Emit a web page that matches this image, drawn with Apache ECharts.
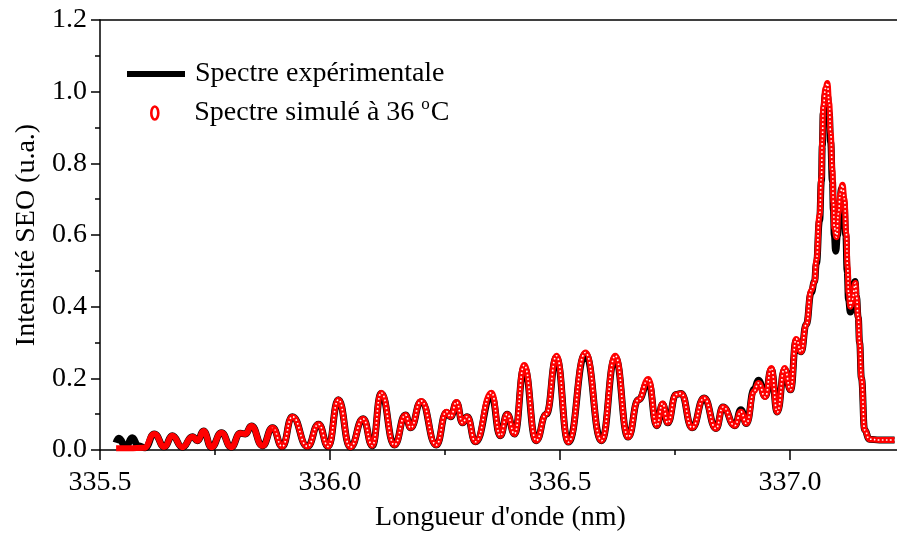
<!DOCTYPE html>
<html>
<head>
<meta charset="utf-8">
<script src="https://cdn.jsdelivr.net/npm/echarts/dist/echarts.min.js"></script>
<style>
html,body{margin:0;padding:0;background:#fff;}
#chart{width:897px;height:533px;}
</style>
</head>
<body>
<div id="chart"></div>
<script>
// ---- Data ----
const expName = 'Spectre expérimentale';
const simName = 'Spectre simulé à 36 °C';

const xTicks = [335.5, 336.0, 336.5, 337.0];
const yTicks = [0.0, 0.2, 0.4, 0.6, 0.8, 1.0, 1.2];

// simulated spectrum (wavelength nm, intensity)
const simWavelength = [
 335.535,335.564,335.596,335.618,335.640,335.657,335.679,335.701,335.712,335.725,
 335.742,335.764,335.785,335.805,335.816,335.829,335.853,335.875,335.896,335.918,
 335.951,335.975,335.996,336.018,336.044,336.072,336.092,336.111,336.140,336.164,
 336.175,336.198,336.231,336.253,336.262,336.275,336.288,336.298,336.316,336.351,
 336.370,336.385,336.401,336.422,336.448,336.470,336.492,336.518,336.555,336.590,
 336.620,336.648,336.670,336.692,336.710,336.723,336.734,336.752,336.763,336.787,
 336.813,336.839,336.854,336.880,336.893,336.905,336.922,336.931,336.946,336.959,
 336.972,336.988,337.001,337.013,337.024,337.035,337.046,337.053,337.057,337.064,
 337.068,337.070,337.072,337.077,337.081,337.085,337.088,337.092,337.094,337.096,
 337.101,337.105,337.109,337.114,337.118,337.122,337.125,337.127,337.131,337.135,
 337.142,337.144,337.148,337.151,337.155,337.162,337.172,337.194,337.227
];
const simIntensity = [
 0.005,0.005,0.006,0.045,0.009,0.040,0.008,0.037,0.026,0.053,
 0.008,0.048,0.008,0.047,0.045,0.067,0.012,0.062,0.010,0.093,
 0.010,0.072,0.010,0.140,0.008,0.087,0.012,0.160,0.014,0.098,
 0.062,0.137,0.014,0.107,0.093,0.134,0.076,0.093,0.023,0.160,
 0.040,0.100,0.045,0.237,0.026,0.100,0.263,0.022,0.272,0.026,
 0.263,0.036,0.140,0.198,0.068,0.130,0.076,0.155,0.158,0.062,
 0.145,0.060,0.120,0.068,0.107,0.074,0.165,0.187,0.148,0.229,
 0.106,0.229,0.168,0.310,0.274,0.350,0.446,0.470,0.530,0.655,
 0.760,0.865,0.957,1.010,1.024,0.968,0.885,0.780,0.690,0.620,
 0.594,0.660,0.715,0.740,0.700,0.605,0.510,0.440,0.400,0.420,
 0.466,0.430,0.370,0.300,0.200,0.056,0.030,0.028,0.028
];

// experimental spectrum (wavelength nm, intensity)
const expWavelength = [
 335.535,335.541,335.556,335.570,335.583,335.598,335.618,335.640,335.657,335.679,
 335.701,335.712,335.725,335.742,335.764,335.785,335.805,335.816,335.829,335.853,
 335.875,335.896,335.918,335.951,335.975,335.996,336.018,336.044,336.072,336.092,
 336.111,336.140,336.164,336.175,336.198,336.231,336.253,336.262,336.275,336.288,
 336.298,336.316,336.351,336.370,336.385,336.401,336.422,336.448,336.470,336.492,
 336.518,336.555,336.590,336.620,336.648,336.670,336.692,336.710,336.723,336.734,
 336.752,336.763,336.787,336.813,336.839,336.854,336.880,336.893,336.905,336.922,
 336.931,336.946,336.959,336.972,336.988,337.001,337.013,337.024,337.035,337.046,
 337.053,337.057,337.064,337.068,337.070,337.072,337.077,337.081,337.085,337.088,
 337.092,337.094,337.096,337.099,337.103,337.107,337.112,337.117,337.121,337.124,
 337.127,337.131,337.135,337.141,337.144,337.148,337.151,337.155,337.162,337.172,
 337.194,337.227
];
const expIntensity = [
 0.020,0.033,0.008,0.034,0.012,0.006,0.045,0.009,0.040,0.008,
 0.037,0.026,0.053,0.008,0.048,0.008,0.047,0.045,0.067,0.012,
 0.062,0.010,0.093,0.010,0.072,0.010,0.140,0.008,0.087,0.012,
 0.158,0.014,0.098,0.062,0.135,0.014,0.105,0.093,0.132,0.076,
 0.093,0.023,0.150,0.040,0.100,0.045,0.230,0.026,0.100,0.258,
 0.022,0.268,0.026,0.258,0.036,0.140,0.190,0.068,0.128,0.076,
 0.155,0.158,0.062,0.145,0.060,0.120,0.068,0.112,0.074,0.170,
 0.195,0.150,0.225,0.106,0.225,0.168,0.305,0.274,0.350,0.440,
 0.470,0.520,0.640,0.750,0.850,0.940,0.995,0.990,0.940,0.860,
 0.750,0.670,0.600,0.555,0.600,0.680,0.730,0.690,0.600,0.500,
 0.420,0.385,0.410,0.470,0.430,0.370,0.300,0.200,0.056,0.030,
 0.028,0.028
];

// ---- Build chart ----
const pairs = (xs, ys) => xs.map((x, i) => [x, ys[i]]);
const simData = pairs(simWavelength, simIntensity);
const expData = pairs(expWavelength, expIntensity);

const FONT = 'Liberation Serif';
const chart = echarts.init(document.getElementById('chart'), null, {renderer: 'canvas'});

const xMin = xTicks[0];
const xMax = 337.241;

// white "marker centre" dots only visible where the simulated curve is tall
const overlayGradient = new echarts.graphic.LinearGradient(0, 0, 1, 0, [
  {offset: 0, color: 'rgba(255,255,255,0)'},
  {offset: 0.2, color: 'rgba(255,255,255,0)'},
  {offset: 0.21, color: 'rgba(255,255,255,1)'},
  {offset: 1, color: 'rgba(255,255,255,1)'}
]);

chart.setOption({
  animation: false,
  backgroundColor: '#ffffff',
  grid: {left: 100, top: 20, right: -4, bottom: 83, containLabel: false, outerBoundsMode: 'none'},
  legend: [
    {
      data: [{name: expName, icon: 'rect'}],
      left: 127, top: 60, padding: 0,
      itemWidth: 58, itemHeight: 6,
      selectedMode: false,
      textStyle: {fontFamily: FONT, fontSize: 28, color: '#000', padding: [0, 0, 0, 5]}
    },
    {
      data: [{name: simName,
              icon: 'path://M0,6.5 A3.5,6.5 0 1,1 7,6.5 A3.5,6.5 0 1,1 0,6.5 Z',
              itemStyle: {color: '#ffffff', borderColor: '#ff0000', borderWidth: 2.6}}],
      left: 150, top: 96, padding: 0,
      itemWidth: 7, itemHeight: 13,
      selectedMode: false,
      formatter: () => 'Spectre simulé à 36 {sup|o}C',
      textStyle: {
        fontFamily: FONT, fontSize: 28, color: '#000', padding: [0, 0, 0, 31],
        rich: {sup: {fontFamily: FONT, fontSize: 17, color: '#000', padding: [0, 1, 17, 0]}}
      }
    }
  ],
  xAxis: [
    {
      type: 'value', min: xMin, max: xMax, interval: 0.5,
      offset: 2,
      name: "Longueur d'onde (nm)", nameLocation: 'middle', nameGap: 52,
      nameTextStyle: {fontFamily: FONT, fontSize: 28, color: '#000'},
      axisLine: {show: true, lineStyle: {color: '#000', width: 1.5}},
      axisTick: {show: true, length: 10, inside: false, lineStyle: {color: '#000', width: 1.5}},
      minorTick: {show: true, splitNumber: 2, length: 5, lineStyle: {color: '#000', width: 1.5}},
      axisLabel: {fontFamily: FONT, fontSize: 28, color: '#000', margin: 17,
        showMaxLabel: false, formatter: v => xTicks.some(t => Math.abs(t - v) < 1e-6) ? v.toFixed(1) : ''},
      splitLine: {show: false}
    },
    {
      type: 'value', position: 'top', min: xMin, max: xMax,
      axisLine: {show: true, lineStyle: {color: '#000', width: 1.5}},
      axisTick: {show: false}, axisLabel: {show: false}, splitLine: {show: false}
    }
  ],
  yAxis: {
    type: 'value', min: yTicks[0], max: yTicks[yTicks.length - 1], interval: 0.2,
    name: 'Intensité SEO (u.a.)', nameLocation: 'middle', nameGap: 58, nameRotate: 90,
    nameTextStyle: {fontFamily: FONT, fontSize: 28, color: '#000'},
    axisLine: {show: true, lineStyle: {color: '#000', width: 1.5}},
    axisTick: {show: true, length: 9, lineStyle: {color: '#000', width: 1.5}},
    minorTick: {show: true, splitNumber: 2, length: 5, lineStyle: {color: '#000', width: 1.5}},
    axisLabel: {fontFamily: FONT, fontSize: 28, color: '#000', margin: 13, formatter: v => v.toFixed(1)},
    splitLine: {show: false}
  },
  series: [
    {
      name: expName, type: 'line', data: expData,
      smooth: 0.5, smoothMonotone: 'x', showSymbol: false, symbol: 'none',
      lineStyle: {color: '#000000', width: 7},
      itemStyle: {color: '#000000'}, z: 2
    },
    {
      name: simName, type: 'line', data: simData,
      smooth: 0.5, smoothMonotone: 'x', showSymbol: false, symbol: 'none',
      lineStyle: {color: '#ff0000', width: 6},
      itemStyle: {color: '#ff0000'}, z: 3
    },
    {
      name: 'simOverlay', type: 'line', data: simData,
      smooth: 0.5, smoothMonotone: 'x', showSymbol: false, symbol: 'none',
      lineStyle: {color: overlayGradient, width: 1.6, type: [1.6, 2.4]}, silent: true, z: 4
    }
  ]
});
</script>
</body>
</html>
